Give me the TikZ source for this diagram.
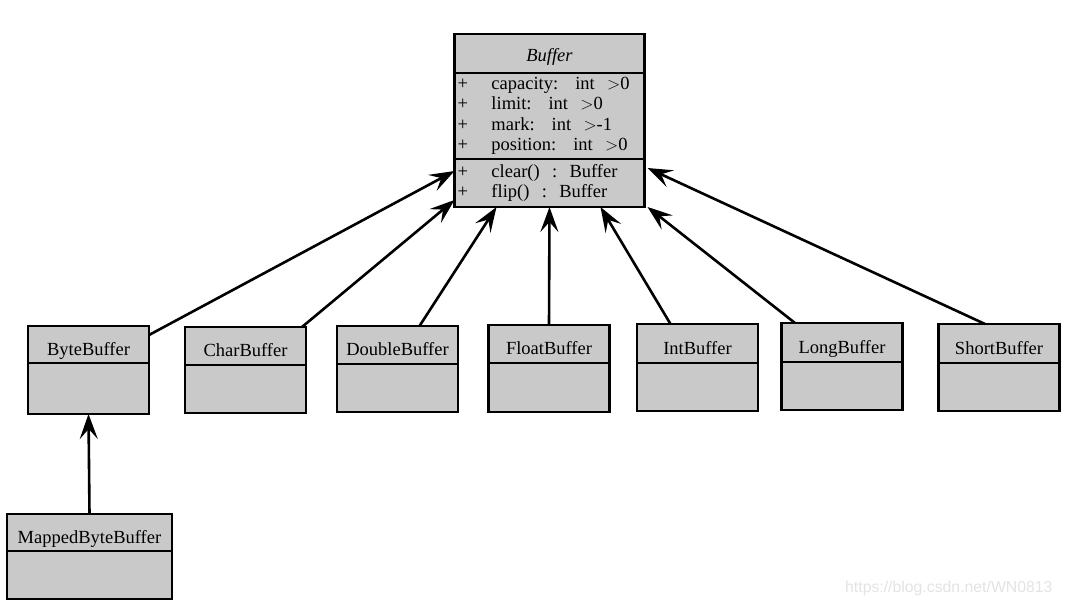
\documentclass[tikz,border=0pt]{standalone}
\usepackage{fontspec}
\setmainfont{Liberation Serif}
\newfontfamily\markfont{Liberation Sans}
\usetikzlibrary{arrows.meta}
\usetikzlibrary{positioning}

\newcommand{\pub}{\makebox[34pt][l]{+}}
\newcommand{\gap}{\hspace{17pt}}

\tikzset{
	cls/.style={draw,fill=gray!42,line width=2.4pt,outer sep=0pt,inner sep=0pt,minimum width=121pt,font=\fontsize{18.5}{20.5}\selectfont},
	head/.style={cls,text height=24pt,text depth=3pt},
	inherit/.style={line width=2.6pt,-{Stealth[length=25pt,width=18pt,inset=10pt]}}
}

\begin{document}
\begin{tikzpicture}[x=1pt,y=-1pt]
		\useasboundingbox (0,0) rectangle (1065,606);
		% the base class
		\node[cls,minimum width=190pt,minimum height=39pt,text height=19pt,text depth=3pt,anchor=north,font=\fontsize{18.5}{20.5}\selectfont\itshape] (buffer) at (549.5,34) {Buffer};
		\node[cls,minimum width=190pt,minimum height=86pt,text width=184pt,align=left,below=0pt of buffer] (attrs) {\pub capacity:\gap int~~$>$0\\ \pub limit:\gap int~~$>$0\\ \pub mark:\gap int~~$>$-1\\ \pub position:\gap int~~$>$0};
		\node[cls,minimum width=190pt,minimum height=48pt,text width=184pt,align=left,below=0pt of attrs] (methods) {\pub clear()~~:~~Buffer\\ \pub flip()~~:~~Buffer};
		% the subclasses
		\node[head,minimum height=37pt,anchor=north] (byte) at (88.5,326) {ByteBuffer};
		\node[cls,minimum height=51pt,below=0pt of byte] (bytebody) {};
		\node[head,minimum height=38pt,anchor=north] (char) at (245.5,327) {CharBuffer};
		\node[cls,minimum height=48pt,below=0pt of char] (charbody) {};
		\node[head,minimum height=38pt,anchor=north] (double) at (397.5,326) {DoubleBuffer};
		\node[cls,minimum height=48pt,below=0pt of double] (doublebody) {};
		\node[head,minimum height=38pt,anchor=north] (float) at (549,325) {FloatBuffer};
		\node[cls,minimum height=49pt,below=0pt of float] (floatbody) {};
		\node[head,minimum height=39pt,anchor=north] (int) at (697.5,324) {IntBuffer};
		\node[cls,minimum height=48pt,below=0pt of int] (intbody) {};
		\node[head,minimum height=39pt,anchor=north] (long) at (842,323) {LongBuffer};
		\node[cls,minimum height=48pt,below=0pt of long] (longbody) {};
		\node[head,minimum height=39pt,anchor=north] (short) at (999,324) {ShortBuffer};
		\node[cls,minimum height=48pt,below=0pt of short] (shortbody) {};
		\node[head,minimum width=165pt,minimum height=37pt,anchor=north] (mapped) at (89.5,514) {MappedByteBuffer};
		\node[cls,minimum width=165pt,minimum height=48pt,below=0pt of mapped] (mappedbody) {};
		% generalisation arrows
		\draw[inherit] ([yshift=-9pt]byte.north east) -- ([yshift=12pt]methods.west);
		\draw[inherit] ([xshift=-4pt]char.north east) -- ([yshift=7pt]methods.south west);
		\draw[inherit] ([xshift=22pt]double.north) -- ([xshift=-53pt]methods.south);
		\draw[inherit] (float.north) -- (methods.south);
		\draw[inherit] ([xshift=-27pt]int.north) -- ([xshift=51pt]methods.south);
		\draw[inherit] ([xshift=-47pt]long.north) -- ([xshift=3pt]methods.south east);
		\draw[inherit] ([xshift=-14pt]short.north) -- ([yshift=-9pt,xshift=3pt]methods.north east);
		\draw[inherit] (mapped.north) -- (bytebody.south);
		\node[font=\markfont\fontsize{15.8}{18}\selectfont,text=gray!22,anchor=east] (mark) at (1056,588) {https://blog.csdn.net/WN0813};
\end{tikzpicture}
\end{document}
